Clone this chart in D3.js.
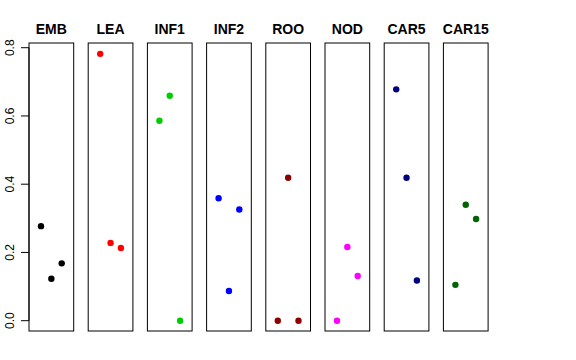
<!DOCTYPE html>
<html>
<head>
<meta charset="utf-8">
<script src="https://cdn.jsdelivr.net/npm/d3@7"></script>
<style>
body { margin: 0; background: #fff; }
text { font-family: "Liberation Sans", Arial, sans-serif; }
</style>
</head>
<body>
<svg width="576" height="360"></svg>
<script>
var tissues = ["EMB", "LEA", "INF1", "INF2", "ROO", "NOD", "CAR5", "CAR15"];
var colors = ["#000000", "#ff0000", "#00cd00", "#0000ff", "#8b0000", "#ff00ff", "#000080", "#006400"];
// three values per tissue, in x order 1, 2, 3
var values = [
    [0.277, 0.123, 0.168],
    [0.782, 0.228, 0.213],
    [0.586, 0.659, 0.000],
    [0.359, 0.087, 0.326],
    [0.000, 0.419, 0.000],
    [0.000, 0.216, 0.131],
    [0.678, 0.419, 0.118],
    [0.105, 0.340, 0.298]
];
var yTicks = [0, 0.2, 0.4, 0.6, 0.8];

var svg = d3.select("svg");

var panelW = 44.7, pitch = 59.2, left0 = 29;
var top0 = 43, bottom0 = 331;

var y = d3.scaleLinear()
    .domain([-0.0302, 0.8138])
    .range([bottom0, top0]);

var x = d3.scaleLinear()
    .domain([-0.16, 4.16])
    .range([0, panelW]);

// y axis on the left
var axis = svg.append("g")
    .attr("transform", "translate(" + left0 + ",0)");
axis.append("line")
    .attr("x1", 0).attr("x2", 0)
    .attr("y1", y(0)).attr("y2", y(0.8))
    .attr("stroke", "black");
axis.selectAll("line.tick").data(yTicks).enter().append("line")
    .attr("class", "tick")
    .attr("x1", -8).attr("x2", 0)
    .attr("y1", function(d) { return y(d); })
    .attr("y2", function(d) { return y(d); })
    .attr("stroke", "black");
axis.selectAll("text").data(yTicks).enter().append("text")
    .attr("transform", function(d) { return "translate(-15.5," + y(d) + ") rotate(-90)"; })
    .attr("text-anchor", "middle")
    .style("font-size", "12px")
    .text(function(d) { return d.toFixed(1); });

var panels = svg.selectAll("g.panel").data(tissues).enter().append("g")
    .attr("class", "panel")
    .attr("transform", function(d, i) { return "translate(" + (left0 + i * pitch) + ",0)"; });

panels.append("rect")
    .attr("x", 0).attr("y", top0)
    .attr("width", panelW).attr("height", bottom0 - top0)
    .attr("fill", "none")
    .attr("stroke", "black");

panels.append("text")
    .attr("x", panelW / 2)
    .attr("y", 34)
    .attr("text-anchor", "middle")
    .style("font-size", "14px")
    .style("font-weight", "bold")
    .text(function(d) { return d; });

panels.each(function(d, i) {
    d3.select(this).selectAll("circle").data(values[i]).enter().append("circle")
        .attr("cx", function(v, j) { return x(j + 1); })
        .attr("cy", function(v) { return y(v); })
        .attr("r", 3.2)
        .attr("fill", colors[i]);
});
</script>
</body>
</html>
